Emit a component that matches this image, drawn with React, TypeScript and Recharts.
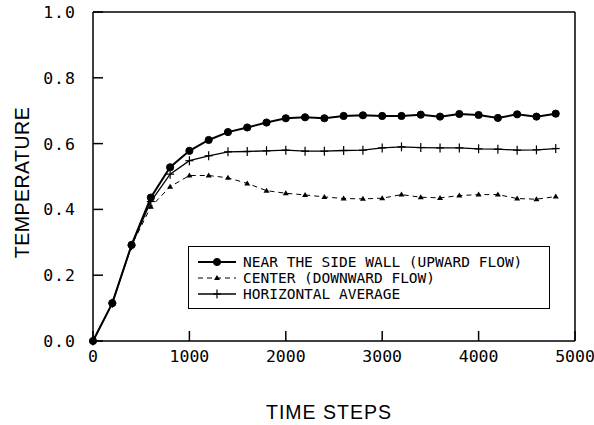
import React from 'react';
import { LineChart, Line, XAxis, YAxis, Label } from 'recharts';

// time steps sampled every 200
const steps = [
  0, 200, 400, 600, 800, 1000, 1200, 1400, 1600, 1800, 2000, 2200, 2400,
  2600, 2800, 3000, 3200, 3400, 3600, 3800, 4000, 4200, 4400, 4600, 4800,
];

const nearWall = [
  0, 0.115, 0.292, 0.436, 0.528, 0.578, 0.611, 0.635, 0.649, 0.664, 0.677, 0.68, 0.677,
  0.684, 0.686, 0.684, 0.684, 0.688, 0.682, 0.69, 0.687, 0.678, 0.689, 0.682, 0.691,
];

const center = [
  0, 0.115, 0.29, 0.408, 0.469, 0.503, 0.503, 0.496, 0.479, 0.457, 0.449, 0.444, 0.438,
  0.433, 0.432, 0.434, 0.445, 0.437, 0.435, 0.442, 0.445, 0.445, 0.433, 0.431, 0.439,
];

const horizAvg = [
  0, 0.115, 0.29, 0.424, 0.507, 0.548, 0.563, 0.575, 0.576, 0.578, 0.58, 0.577, 0.577,
  0.579, 0.58, 0.587, 0.59, 0.588, 0.587, 0.587, 0.584, 0.583, 0.58, 0.581, 0.585,
];

const xTicks = [0, 1000, 2000, 3000, 4000, 5000];
const yTicks = [0, 0.2, 0.4, 0.6, 0.8, 1.0];

const legendLabels = [
  'NEAR THE SIDE WALL (UPWARD FLOW)',
  'CENTER (DOWNWARD FLOW)',
  'HORIZONTAL AVERAGE',
];

const data = steps.map((s, i) => ({
  step: s,
  nearWall: nearWall[i],
  center: center[i],
  horizAvg: horizAvg[i],
}));

const tickFont = "'DejaVu Sans Mono', monospace";
const titleFont = "'Liberation Sans', Arial, sans-serif";
const TICK_IN = -10; // negative size -> ticks point into the plot
const frameLine = { stroke: '#000', strokeWidth: 1.5 };

const CircleDot = (props: any) => {
  const { cx, cy } = props;
  if (cx == null || cy == null) return null;
  return <circle cx={cx} cy={cy} r={3.6} fill="#000" stroke="#000" strokeWidth={1} />;
};

const TriangleDot = (props: any) => {
  const { cx, cy } = props;
  if (cx == null || cy == null) return null;
  return <path d={`M${cx},${cy - 3} L${cx + 3},${cy + 2} L${cx - 3},${cy + 2} Z`} fill="#000" />;
};

const PlusDot = (props: any) => {
  const { cx, cy } = props;
  if (cx == null || cy == null) return null;
  return (
    <g stroke="#000" strokeWidth={1.2}>
      <line x1={cx} x2={cx} y1={cy - 4.5} y2={cy + 4.5} />
      <line x1={cx - 4} x2={cx + 4} y1={cy} y2={cy} />
    </g>
  );
};

// labels are placed relative to the inner end of the tick
const BottomLabel = ({ x, y, payload }: any) => (
  <text x={x} y={y + 31} textAnchor="middle" fontFamily={tickFont} fontSize={16.5} fill="#000">
    {payload.value}
  </text>
);

const LeftLabel = ({ x, y, payload }: any) => (
  <text x={x - 27} y={y + 6} textAnchor="end" fontFamily={tickFont} fontSize={16.5} fill="#000" letterSpacing={1}>
    {payload.value.toFixed(1)}
  </text>
);

const YTitle = ({ viewBox }: any) => {
  const cx = viewBox.x + 22;
  const cy = viewBox.y + viewBox.height / 2 + 6;
  return (
    <text
      x={cx}
      y={cy}
      transform={`rotate(-90 ${cx} ${cy})`}
      textAnchor="middle"
      dominantBaseline="central"
      fontFamily={titleFont}
      fontSize={19.5}
      letterSpacing={0.5}
      fill="#000"
    >
      TEMPERATURE
    </text>
  );
};

const XTitle = ({ viewBox }: any) => (
  <text
    x={viewBox.x + viewBox.width / 2 - 5}
    y={viewBox.y + 78}
    textAnchor="middle"
    fontFamily={titleFont}
    fontSize={19.5}
    letterSpacing={1}
    fill="#000"
  >
    TIME STEPS
  </text>
);

const legendMarkers = [
  { dash: undefined, width: 2, Marker: CircleDot },
  { dash: '5 4', width: 1, Marker: TriangleDot },
  { dash: undefined, width: 1.3, Marker: PlusDot },
];

const LegendBox = () => (
  <div
    style={{
      position: 'absolute',
      left: 188,
      top: 246,
      width: 362,
      height: 63,
      border: '1.3px solid #000',
      boxSizing: 'border-box',
      paddingTop: 7,
      background: '#fff',
    }}
  >
    {legendLabels.map((label, i) => {
      const m = legendMarkers[i];
      return (
        <div key={label} style={{ display: 'flex', alignItems: 'center', height: 16 }}>
          <svg width={50} height={16} style={{ marginLeft: 8 }}>
            <line x1={1} x2={39} y1={8} y2={8} stroke="#000" strokeWidth={m.width} strokeDasharray={m.dash} />
            <m.Marker cx={20} cy={8} />
          </svg>
          <span style={{ fontFamily: tickFont, fontSize: 14.5, color: '#000', whiteSpace: 'pre', marginLeft: -4 }}>
            {label}
          </span>
        </div>
      );
    })}
  </div>
);

export default function App() {
  return (
    <div style={{ position: 'absolute', left: 0, top: 0, width: 594, height: 425, background: '#fff' }}>
      <LineChart width={594} height={425} data={data} margin={{ top: 11, right: 18, bottom: 54, left: 0 }}>
        <XAxis
          dataKey="step"
          type="number"
          domain={[0, 5000]}
          ticks={xTicks}
          tickSize={TICK_IN}
          tickMargin={0}
          height={30}
          tick={<BottomLabel />}
          axisLine={frameLine}
          tickLine={frameLine}
          interval={0}
        >
          <Label content={<XTitle />} />
        </XAxis>
        <XAxis
          xAxisId="top"
          dataKey="step"
          orientation="top"
          type="number"
          domain={[0, 5000]}
          ticks={xTicks}
          tickSize={TICK_IN}
          tickMargin={0}
          height={1}
          tick={false}
          axisLine={frameLine}
          tickLine={frameLine}
          interval={0}
        />
        <YAxis
          type="number"
          domain={[0, 1]}
          ticks={yTicks}
          width={93}
          tickSize={TICK_IN}
          tickMargin={0}
          tick={<LeftLabel />}
          axisLine={frameLine}
          tickLine={frameLine}
          interval={0}
        >
          <Label content={<YTitle />} />
        </YAxis>
        <YAxis
          yAxisId="right"
          orientation="right"
          type="number"
          domain={[0, 1]}
          ticks={yTicks}
          width={1}
          tickSize={TICK_IN}
          tickMargin={0}
          tick={false}
          axisLine={frameLine}
          tickLine={frameLine}
          interval={0}
        />
        {/* invisible series so the top/right frame axes get drawn */}
        <Line
          xAxisId="top"
          yAxisId="right"
          dataKey="nearWall"
          stroke="none"
          dot={false}
          activeDot={false}
          legendType="none"
          isAnimationActive={false}
        />
        <Line
          dataKey="center"
          stroke="#000"
          strokeWidth={1}
          strokeDasharray="5 4"
          dot={<TriangleDot />}
          isAnimationActive={false}
        />
        <Line
          dataKey="horizAvg"
          stroke="#000"
          strokeWidth={1.3}
          dot={<PlusDot />}
          isAnimationActive={false}
        />
        <Line
          dataKey="nearWall"
          stroke="#000"
          strokeWidth={2}
          dot={<CircleDot />}
          isAnimationActive={false}
        />
      </LineChart>
      <LegendBox />
    </div>
  );
}
